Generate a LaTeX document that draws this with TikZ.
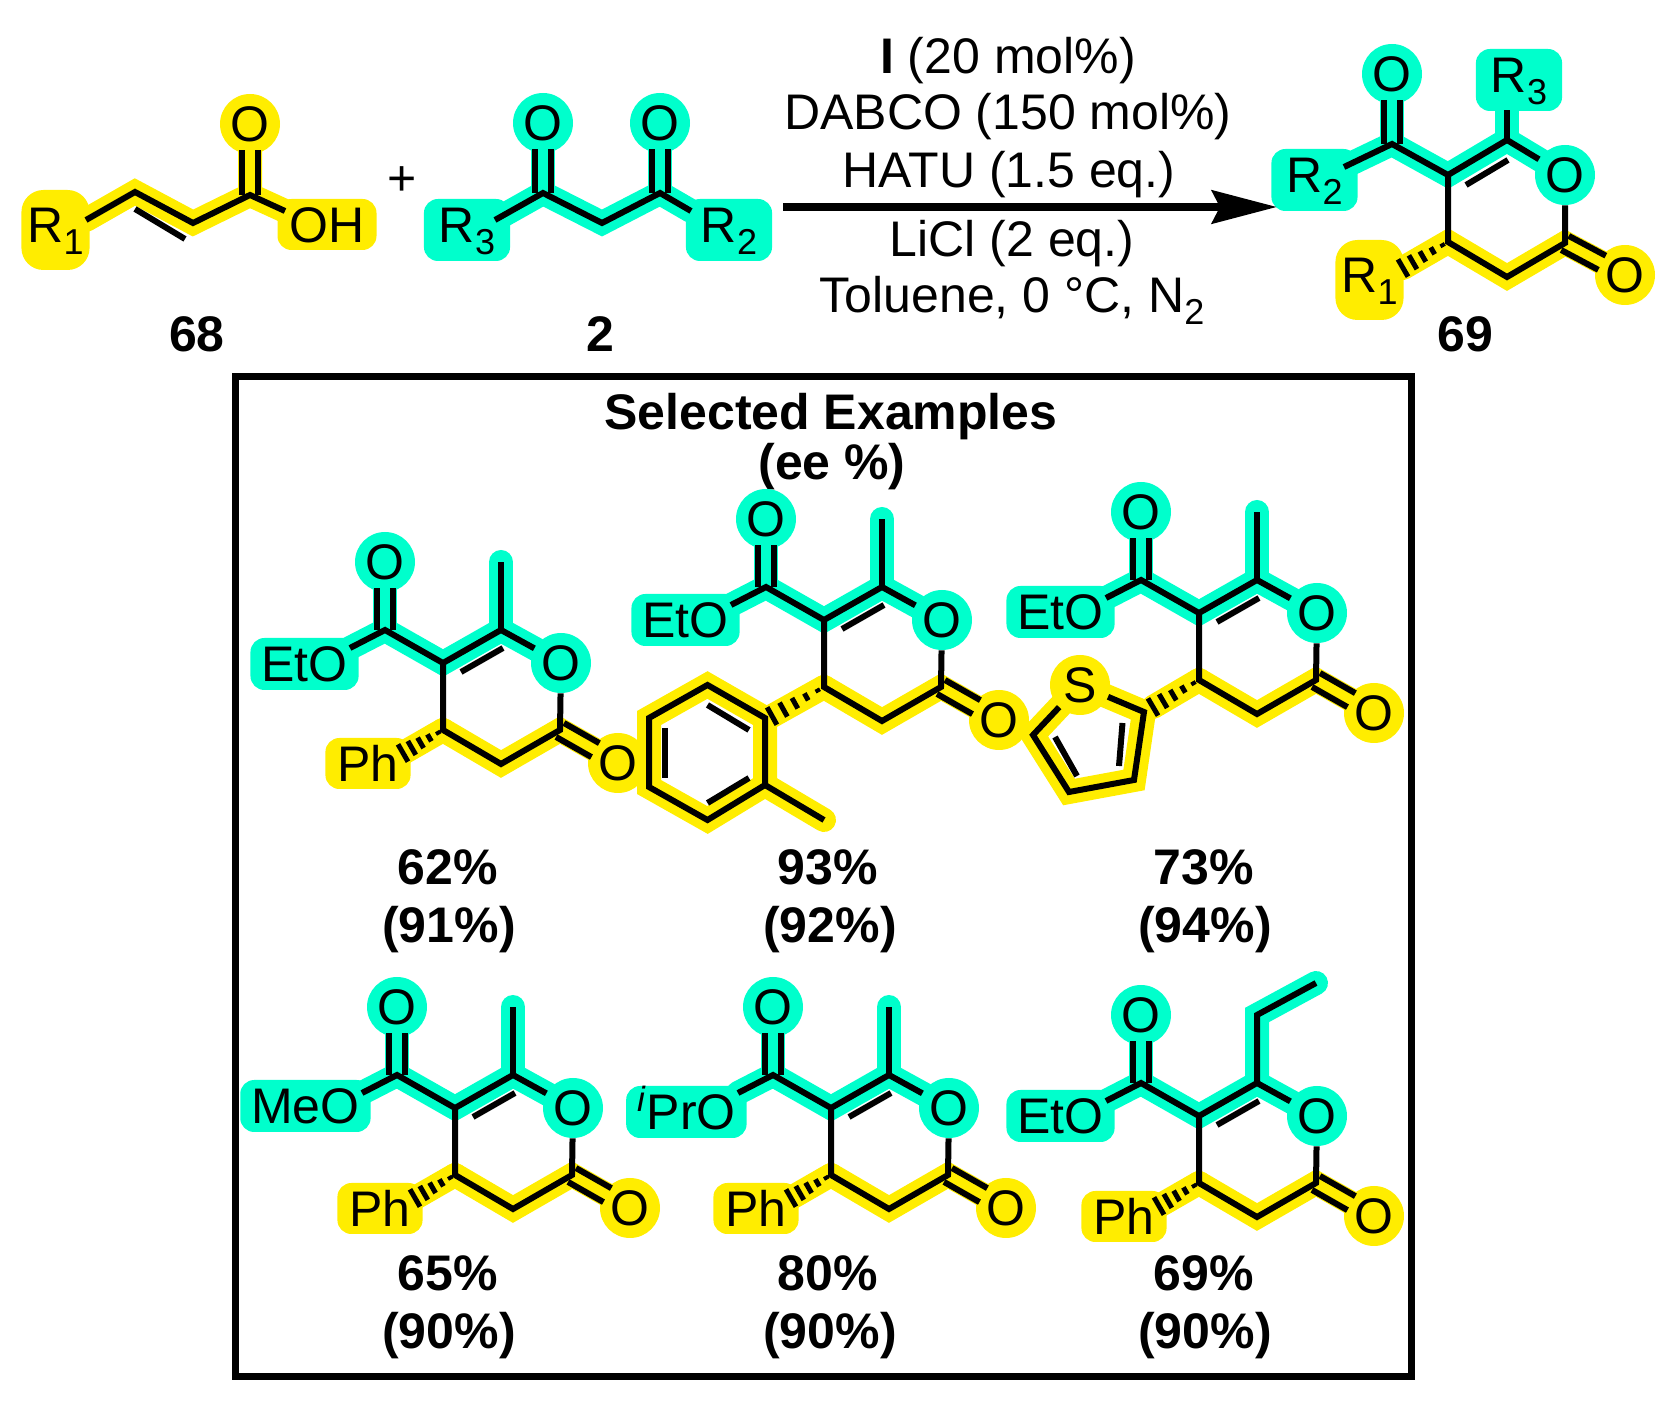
\documentclass[tikz,border=0pt]{standalone}
\usepackage{fontspec}
\setmainfont{Liberation Sans}
\usetikzlibrary{calc,arrows.meta,backgrounds}
\definecolor{hlmint}{HTML}{00FFCC}
\definecolor{hlyellow}{HTML}{FFED00}
\tikzset{
  textbase/.style={font=\fontsize{25}{30}\selectfont},
  boldlabel/.style={font=\fontsize{25}{30}\selectfont\bfseries,anchor=base},
  reagent/.style={textbase,anchor=base,inner sep=0pt},
  atomb/.style={textbase,circle,fill=hlmint,inner sep=0pt,minimum size=30pt},
  atomy/.style={textbase,circle,fill=hlyellow,inner sep=0pt,minimum size=30pt},
  tagb/.style={textbase,anchor=base,fill=hlmint,rounded corners=7pt,inner ysep=0pt,inner xsep=5.5pt,text height=22pt,text depth=4pt},
  tagy/.style={textbase,anchor=base,fill=hlyellow,rounded corners=7pt,inner ysep=0pt,inner xsep=6pt,text height=22pt,text depth=3.5pt},
  rgroupb/.style={tagb,inner xsep=7.5pt,text depth=9pt},
  rgroupy/.style={tagy,rounded corners=11pt,inner xsep=3pt,text height=26.5pt,text depth=13.5pt},
  bond/.style={draw=black,line width=3pt,line join=miter},
  bandb/.style={draw=hlmint,line width=12pt,line join=miter,line cap=round},
  bandy/.style={draw=hlyellow,line width=12pt,line join=miter,line cap=round},
  hashtick/.style={draw=black,line width=2.5pt},
  rxnarrow/.style={draw=black,line width=4pt,-{Stealth[length=32.5pt,width=16.5pt,inset=4pt]}},
  framebox/.style={draw=black,line width=3.5pt}
}
\newcommand{\lowsub}[1]{\raisebox{-6pt}{\fontsize{18}{18}\selectfont #1}}
\newcommand{\dblbond}[2]{
  \draw[bond,shorten >=13pt] ($(#1)!4pt!90:(#2)$) -- ($(#2)!4pt!-90:(#1)$);
  \draw[bond,shorten >=13pt] ($(#1)!4pt!-90:(#2)$) -- ($(#2)!4pt!90:(#1)$);
}
\newcommand{\hashbond}[2]{
  \foreach \hpos/\hwid in {.12/1.0,.34/2.0,.56/3.0,.78/4.0,1/5.0}
    \draw[hashtick] ($(#1)!\hpos!(#2)!\hwid pt!90:(#1)$) -- ($(#1)!\hpos!(#2)!\hwid pt!-90:(#1)$);
}
\newcommand{\lactonecore}[5]{
  \begin{scope}[shift={(#2,#3)}]
    \coordinate (#1c3) at (0,0);
    \coordinate (#1c4) at (0,67);
    \coordinate (#1c5) at (58,101);
    \coordinate (#1c6) at (117,67);
    \coordinate (#1c2) at (58,-33);
    \coordinate (#1ce) at (-58,-33);
    \coordinate (#1ee) at (-93,-15);
    \coordinate (#1d1) at (18,9);
    \coordinate (#1d2) at (60,-15);
    \node[atomb] (#1o1) at (118,0) {O};
    \node[atomb] (#1ok) at (-58,-101) {O};
    \node[atomy] (#1ox) at (175,100) {O};
    \node[tagb,anchor=base east] (#1est) at (-84,#5) {#4};
  \end{scope}
  \begin{scope}[on background layer]
    \draw[bandb] (#1ee) -- (#1ce) -- (#1c3) -- (#1c2) -- (#1o1.center);
    \draw[bandb] (#1ce) -- (#1ok.center);
    \draw[bandy] (#1c4) -- (#1c5) -- (#1c6) -- (#1ox.center);
  \end{scope}
  \draw[bond] (#1ee) -- (#1ce) -- (#1c3) -- (#1c2) -- (#1o1);
  \draw[bond] (#1c3) -- (#1c4) -- (#1c5) -- (#1c6) -- (#1o1);
  \draw[bond] (#1d1) -- (#1d2);
  \dblbond{#1ce}{#1ok}
  \dblbond{#1c6}{#1ox}
}
\newcommand{\methylarm}[1]{
  \coordinate (#1me) at ($(#1c2)+(0,-68)$);
  \begin{scope}[on background layer]
    \draw[bandb] (#1c2) -- (#1me);
  \end{scope}
  \draw[bond] (#1c2) -- (#1me);
}
\newcommand{\phenylarm}[1]{
  \node[tagy] (#1ph) at ($(#1c4)+(-75,52)$) {Ph};
  \coordinate (#1he) at ($(#1c4)+(-40,23)$);
  \begin{scope}[on background layer]
    \draw[bandy] (#1c4) -- (#1he);
  \end{scope}
  \hashbond{#1c4}{#1he}
}
\begin{document}
\begin{tikzpicture}[x=0.5pt,y=-0.5pt]
      \useasboundingbox (0,0) rectangle (1678,1416);

      \node[rgroupy] (r168) at (55.5,243) {R\lowsub{1}};
      \node[atomy] (o68) at (250,124) {O};
      \node[tagy] (oh68) at (327,243) {OH};
      \coordinate (e168) at (86,220);
      \coordinate (c168) at (135,192);
      \coordinate (c268) at (193,223);
      \coordinate (c368) at (250,195);
      \coordinate (e268) at (285,211);
      \coordinate (d168) at (135,209);
      \coordinate (d268) at (185,239);
      \begin{scope}[on background layer]
        \draw[bandy] (e168) -- (c168) -- (c268) -- (c368) -- (o68.center);
        \draw[bandy] (c368) -- (e268);
      \end{scope}
      \draw[bond] (e168) -- (c168) -- (c268) -- (c368) -- (e268);
      \draw[bond] (d168) -- (d268);
      \dblbond{c368}{o68}
      \node[textbase] (plus) at (402,181) {+};

      \node[rgroupb] (r32) at (467,243) {R\lowsub{3}};
      \node[rgroupb] (r22) at (729,243) {R\lowsub{2}};
      \node[atomb] (oa2) at (543,123) {O};
      \node[atomb] (ob2) at (660,123) {O};
      \coordinate (e12) at (495,220);
      \coordinate (c12) at (543,193);
      \coordinate (c22) at (602,223);
      \coordinate (c32) at (660,193);
      \coordinate (e22) at (691,211);
      \begin{scope}[on background layer]
        \draw[bandb] (e12) -- (c12) -- (c22) -- (c32) -- (e22);
        \draw[bandb] (c12) -- (oa2.center);
        \draw[bandb] (c32) -- (ob2.center);
      \end{scope}
      \draw[bond] (e12) -- (c12) -- (c22) -- (c32) -- (e22);
      \dblbond{c12}{oa2}
      \dblbond{c32}{ob2}

      \node[boldlabel] (l68) at (197,352) {68};
      \node[boldlabel] (l2) at (600,352) {2};
      \node[boldlabel] (l69) at (1465,352) {69};

      \node[reagent] (ra) at (1008,74) {\textbf{I} (20 mol\%)};
      \node[reagent] (rb) at (1008,130) {DABCO (150 mol\%)};
      \node[reagent] (rc) at (1009,188) {HATU (1.5 eq.)};
      \node[reagent] (rd) at (1012,257) {LiCl (2 eq.)};
      \node[reagent] (re) at (1012,313) {Toluene, 0 °C, N\lowsub{2}};

      \node[rgroupb] (r269) at (1314.5,193) {R\lowsub{2}};
      \node[rgroupb] (r369) at (1519,93) {R\lowsub{3}};
      \node[rgroupy] (r169) at (1369.5,293) {R\lowsub{1}};
      \node[atomb] (ok69) at (1392,74) {O};
      \node[atomb] (or69) at (1565,175) {O};
      \node[atomy] (ox69) at (1625,275) {O};
      \coordinate (e169) at (1344,167);
      \coordinate (c169) at (1392,144);
      \coordinate (c369) at (1448,175);
      \coordinate (c269) at (1507,140);
      \coordinate (m69) at (1507,110);
      \coordinate (c469) at (1448,242);
      \coordinate (c569) at (1507,277);
      \coordinate (c669) at (1565,243);
      \coordinate (w69) at (1403,268);
      \coordinate (d169) at (1466,185);
      \coordinate (d269) at (1508,160);
      \begin{scope}[on background layer]
        \draw[bandb] (e169) -- (c169) -- (c369) -- (c269) -- (or69.center);
        \draw[bandb] (c169) -- (ok69.center);
        \draw[bandb] (c269) -- (m69);
        \draw[bandy] (w69) -- (c469) -- (c569) -- (c669) -- (ox69.center);
      \end{scope}
      \draw[bond] (e169) -- (c169) -- (c369) -- (c269) -- (or69);
      \draw[bond] (c269) -- (m69);
      \draw[bond] (c369) -- (c469) -- (c569) -- (c669) -- (or69);
      \draw[bond] (d169) -- (d269);
      \dblbond{c169}{ok69}
      \dblbond{c669}{ox69}
      \hashbond{c469}{w69}

      \coordinate (arrowa) at (783,207);
      \coordinate (arrowb) at (1277,207);
      \draw[rxnarrow] (arrowa) -- (arrowb);

      \coordinate (boxa) at (235,377);
      \coordinate (boxb) at (1411,1376);
      \draw[framebox] (boxa) rectangle (boxb);
      \node[boldlabel] (title) at (831,430) {Selected Examples};
      \node[boldlabel] (ee) at (832,480) {(ee \%)};

      \lactonecore{a}{443}{663}{EtO}{19}
      \methylarm{a}
      \phenylarm{a}

      \lactonecore{b}{824}{620}{EtO}{18}
      \methylarm{b}
      \coordinate (t1) at (765,718);
      \coordinate (t2) at (707.5,685);
      \coordinate (t3) at (649,718);
      \coordinate (t4) at (649,787);
      \coordinate (t5) at (707.5,820);
      \coordinate (t6) at (765,785);
      \coordinate (tm) at (824,820);
      \coordinate (tw) at (772,716);
      \begin{scope}[on background layer]
        \draw[bandy] (t1) -- (t2) -- (t3) -- (t4) -- (t5) -- (t6) -- cycle;
        \draw[bandy] (t6) -- (tm);
        \draw[bandy] (bc4) -- (tw);
      \end{scope}
      \draw[bond] (t1) -- (t2) -- (t3) -- (t4) -- (t5) -- (t6) -- cycle;
      \draw[bond] (t6) -- (tm);
      \coordinate (td1) at (707.5,705);
      \coordinate (td2) at (749,730);
      \coordinate (td3) at (665,728);
      \coordinate (td4) at (665,778);
      \coordinate (td5) at (707.5,803);
      \coordinate (td6) at (749,778);
      \draw[bond] (td1) -- (td2);
      \draw[bond] (td3) -- (td4);
      \draw[bond] (td5) -- (td6);
      \hashbond{bc4}{tw}

      \lactonecore{c}{1199}{613}{EtO}{17}
      \methylarm{c}
      \node[atomy] (ts) at (1080,685) {S};
      \coordinate (s2) at (1144,712);
      \coordinate (s3) at (1134,780);
      \coordinate (s4) at (1069,792);
      \coordinate (s5) at (1033,735);
      \coordinate (sw) at (1153,707);
      \coordinate (sd1) at (1122.5,723);
      \coordinate (sd2) at (1119,766);
      \coordinate (sd3) at (1055,737);
      \coordinate (sd4) at (1077,776);
      \begin{scope}[on background layer]
        \draw[bandy] (ts.center) -- (s2) -- (s3) -- (s4) -- (s5) -- (ts.center);
        \draw[bandy] (cc4) -- (sw);
      \end{scope}
      \draw[bond] (ts) -- (s2) -- (s3) -- (s4) -- (s5) -- (ts);
      \draw[bond] (sd1) -- (sd2);
      \draw[bond] (sd3) -- (sd4);
      \hashbond{cc4}{sw}

      \lactonecore{d}{455}{1108}{MeO}{16}
      \methylarm{d}
      \phenylarm{d}

      \lactonecore{e}{831}{1108}{\textsuperscript{\textit{i}}PrO}{22}
      \methylarm{e}
      \phenylarm{e}

      \lactonecore{f}{1199}{1116}{EtO}{18}
      \coordinate (fm) at ($(fc2)+(0,-68)$);
      \coordinate (fn) at ($(fc2)+(59,-100)$);
      \begin{scope}[on background layer]
        \draw[bandb] (fc2) -- (fm) -- (fn);
      \end{scope}
      \draw[bond] (fc2) -- (fm) -- (fn);
      \phenylarm{f}

      \node[boldlabel] (ya) at (448,885) {62\%};
      \node[boldlabel] (yb) at (828,885) {93\%};
      \node[boldlabel] (yc) at (1204,885) {73\%};
      \node[boldlabel] (za) at (449,943) {(91\%)};
      \node[boldlabel] (zb) at (830,943) {(92\%)};
      \node[boldlabel] (zc) at (1205,943) {(94\%)};
      \node[boldlabel] (yd) at (448,1290) {65\%};
      \node[boldlabel] (ye) at (828,1290) {80\%};
      \node[boldlabel] (yf) at (1204,1290) {69\%};
      \node[boldlabel] (zd) at (449,1348) {(90\%)};
      \node[boldlabel] (ze) at (830,1348) {(90\%)};
      \node[boldlabel] (zf) at (1205,1348) {(90\%)};
\end{tikzpicture}
\end{document}
